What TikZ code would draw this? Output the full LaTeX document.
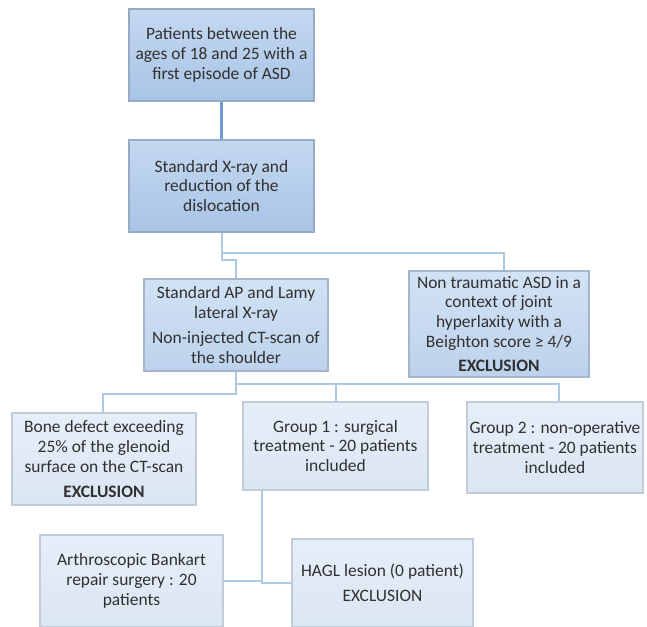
\documentclass[tikz,border=0pt]{standalone}
\usepackage{fontspec}
\setmainfont{Carlito}
\definecolor{txt}{HTML}{303030}
\definecolor{bdA}{HTML}{96AAC3}
\definecolor{topA}{HTML}{C4D8F0}
\definecolor{botA}{HTML}{A8C4E6}
\definecolor{bdB}{HTML}{A5B6CA}
\definecolor{topB}{HTML}{D2E2F4}
\definecolor{botB}{HTML}{BCD2EC}
\definecolor{bdC}{HTML}{C2CCD8}
\definecolor{topC}{HTML}{E6EEF8}
\definecolor{botC}{HTML}{DBE6F3}
\definecolor{lnDark}{HTML}{6C9DD3}
\definecolor{lnLight}{HTML}{AFC8E6}
\tikzset{
  x=1bp, y=-1bp,
  box/.style={align=center, inner sep=0pt, text=txt, line width=1.1bp,
    font=\fontsize{17.5}{19.8}\selectfont},
  boxA/.style={box, draw=bdA, top color=topA, bottom color=botA},
  boxB/.style={box, draw=bdB, top color=topB, bottom color=botB},
  boxC/.style={box, draw=bdC, top color=topC, bottom color=botC},
  darkline/.style={draw=lnDark, line width=2.4bp},
  lightline/.style={draw=lnLight, line width=2bp},
}
\begin{document}
\begin{tikzpicture}
\useasboundingbox (0,0) rectangle (647,627);
\node[boxA, minimum width=185bp, minimum height=92bp] (b1) at (221.5,55)
  {Patients between the\\ages of 18 and 25 with a\\first episode of ASD};
\node[boxA, minimum width=185bp, minimum height=92bp] (b2) at (221.5,186)
  {Standard X-ray and\\reduction of the\\dislocation};
\node[boxB, minimum width=184bp, minimum height=92bp] (b3) at (236,325)
  {Standard AP and Lamy\\lateral X-ray\\[6bp]Non-injected CT-scan of\\the shoulder};
\node[boxB, minimum width=180bp, minimum height=106bp] (b4) at (499,324)
  {Non traumatic ASD in a\\context of joint\\hyperlaxity with a\\Beighton score ≥ 4/9\\[5bp]\textbf{EXCLUSION}};
\node[boxC, minimum width=184bp, minimum height=92bp] (b5) at (104,459)
  {Bone defect exceeding\\25\% of the glenoid\\surface on the CT-scan\\[5bp]\textbf{EXCLUSION}};
\node[boxC, minimum width=185bp, minimum height=88bp] (b6) at (335.5,446)
  {Group 1 : surgical\\treatment - 20 patients\\included};
\node[boxC, minimum width=176bp, minimum height=91bp] (b7) at (555,447.5)
  {Group 2 : non-operative\\treatment - 20 patients\\included};
\node[boxC, minimum width=183bp, minimum height=92bp] (b8) at (131.5,581)
  {Arthroscopic Bankart\\repair surgery : 20\\patients};
\node[boxC, minimum width=181bp, minimum height=88bp] (b9) at (382.5,583)
  {HAGL lesion (0 patient)\\[5bp]EXCLUSION};
% connectors
\draw[darkline] (b1.south) -- (b2.north);
\draw[lightline] (b2.south) -- ++(0,27) -| (b3.north);
\draw[lightline] (b2.south) ++(0,20) -| ([xshift=5bp]b4.north);
\draw[lightline] (b3.south) -- ++(0,12) -| ([xshift=4bp]b7.north);
\draw[lightline] (b3.south) ++(0,12) -| (b6.north);
\draw[lightline] (b3.south) -- ++(0,22) -| ([xshift=-1bp]b5.north);
\coordinate (g1) at ([xshift=-73.5bp]b6.south);
\draw[lightline] (g1) |- (b9.west);
\draw[lightline] (b8.east) -- (b8.east -| g1);
\end{tikzpicture}
\end{document}
